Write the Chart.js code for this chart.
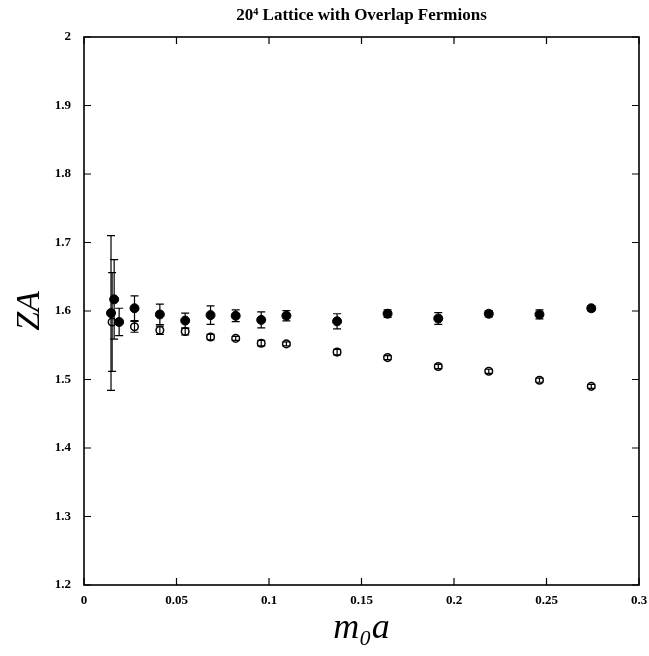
<!DOCTYPE html>
<html>
<head>
<meta charset="utf-8">
<script src="https://cdn.jsdelivr.net/npm/chart.js@4.4.1/dist/chart.umd.min.js"></script>
<style>
  body { margin: 0; background: #fff; }
  #wrap { width: 649px; height: 656px; }
</style>
</head>
<body>
<div id="wrap"><canvas id="za" width="649" height="656"></canvas></div>
<script>
// m0a values and Z_A
var massFilled = [0.0146, 0.0163, 0.0190, 0.0273, 0.0410, 0.0547, 0.0684, 0.0820, 0.0958, 0.1094, 0.1368, 0.1641, 0.1915, 0.2188, 0.2462, 0.2742];
var zaFilled   = [1.597, 1.617, 1.584, 1.604, 1.595, 1.586, 1.594, 1.593, 1.587, 1.593, 1.585, 1.596, 1.589, 1.596, 1.595, 1.604];
var errFilled  = [0.113, 0.058, 0.020, 0.018, 0.015, 0.011, 0.0135, 0.0085, 0.0117, 0.0075, 0.011, 0.0055, 0.0085, 0.0045, 0.0065, 0.004];

var massOpen = [0.0152, 0.0273, 0.0410, 0.0547, 0.0684, 0.0820, 0.0958, 0.1094, 0.1368, 0.1641, 0.1915, 0.2188, 0.2462, 0.2742];
var zaOpen   = [1.584, 1.577, 1.572, 1.570, 1.562, 1.560, 1.553, 1.552, 1.540, 1.532, 1.519, 1.512, 1.499, 1.490];
var errOpen  = [0.072, 0.008, 0.006, 0.005, 0.004, 0.003, 0.004, 0.003, 0.004, 0.003, 0.003, 0.003, 0.003, 0.003];

var xTicks = [0, 0.05, 0.1, 0.15, 0.2, 0.25, 0.3];
var yTicks = [1.2, 1.3, 1.4, 1.5, 1.6, 1.7, 1.8, 1.9, 2];

function points(xs, ys) {
	return xs.map(function (v, i) { return { x: v, y: ys[i] }; });
}

// error bars drawn under the markers
var errorBars = {
	id: 'errorBars',
	beforeDatasetsDraw: function (chart) {
		var ctx = chart.ctx, x = chart.scales.x, y = chart.scales.y;
		ctx.save();
		ctx.strokeStyle = '#000';
		ctx.lineWidth = 1.2;
		chart.data.datasets.forEach(function (ds) {
			ds.data.forEach(function (p, i) {
				var px = x.getPixelForValue(p.x);
				var top = y.getPixelForValue(p.y + ds.errors[i]);
				var bot = y.getPixelForValue(p.y - ds.errors[i]);
				ctx.beginPath();
				ctx.moveTo(px, top); ctx.lineTo(px, bot);
				ctx.moveTo(px - 4, top); ctx.lineTo(px + 4, top);
				ctx.moveTo(px - 4, bot); ctx.lineTo(px + 4, bot);
				ctx.stroke();
			});
		});
		ctx.restore();
	}
};

// box frame with inward ticks on all four sides
var frame = {
	id: 'frame',
	afterDraw: function (chart) {
		var ctx = chart.ctx, a = chart.chartArea, x = chart.scales.x, y = chart.scales.y;
		ctx.save();
		ctx.strokeStyle = '#000';
		ctx.lineWidth = 1.2;
		ctx.beginPath();
		xTicks.forEach(function (t) {
			var px = x.getPixelForValue(t);
			ctx.moveTo(px, a.bottom); ctx.lineTo(px, a.bottom - 7);
			ctx.moveTo(px, a.top); ctx.lineTo(px, a.top + 7);
		});
		yTicks.forEach(function (t) {
			var py = y.getPixelForValue(t);
			ctx.moveTo(a.left, py); ctx.lineTo(a.left + 7, py);
			ctx.moveTo(a.right, py); ctx.lineTo(a.right - 7, py);
		});
		ctx.stroke();
		ctx.lineWidth = 1.6;
		ctx.strokeRect(a.left, a.top, a.right - a.left, a.bottom - a.top);
		ctx.restore();
	}
};

var serif = "'Liberation Serif', 'DejaVu Serif', serif";
var plain = function (v) { return String(Math.round(v * 100) / 100); };

new Chart(document.getElementById('za'), {
	type: 'scatter',
	data: {
		datasets: [
			{
				data: points(massFilled, zaFilled),
				errors: errFilled,
				pointRadius: 4.5,
				pointBackgroundColor: '#000',
				pointBorderColor: '#000',
				pointBorderWidth: 1
			},
			{
				data: points(massOpen, zaOpen),
				errors: errOpen,
				pointRadius: 3.8,
				pointBackgroundColor: 'rgba(0,0,0,0)',
				pointBorderColor: '#000',
				pointBorderWidth: 1.5
			}
		]
	},
	options: {
		responsive: false,
		animation: false,
		layout: { padding: { top: 0, right: 0, left: 0, bottom: 0 } },
		plugins: {
			legend: { display: false },
			tooltip: { enabled: false },
			title: {
				display: true,
				fullSize: false,
				text: '20\u2074 Lattice with Overlap Fermions',
				color: '#000',
				font: { family: serif, size: 17, weight: 'bold', lineHeight: 1.2 },
				padding: { top: 5, bottom: 11.6 }
			}
		},
		scales: {
			x: {
				type: 'linear',
				min: 0,
				max: 0.3,
				afterFit: function (s) { s.height = 71; s.paddingRight = 10; },
				afterBuildTicks: function (s) { s.ticks = xTicks.map(function (v) { return { value: v }; }); },
				grid: { display: false, drawTicks: false },
				border: { display: false },
				ticks: { color: '#000', padding: 8, maxRotation: 0, callback: plain, font: { family: serif, size: 13, weight: 'bold' } },
				title: {
					display: true,
					text: 'm\u2080a',
					color: '#000',
					font: { family: serif, size: 36, style: 'italic', lineHeight: 1.2 },
					padding: { top: 0, bottom: 6 }
				}
			},
			y: {
				type: 'linear',
				min: 1.2,
				max: 2,
				afterFit: function (s) { s.width = 84; },
				afterBuildTicks: function (s) { s.ticks = yTicks.map(function (v) { return { value: v }; }); },
				grid: { display: false, drawTicks: false },
				border: { display: false },
				ticks: { color: '#000', padding: 13, callback: plain, font: { family: serif, size: 13, weight: 'bold' } },
				title: {
					display: true,
					text: 'ZA',
					color: '#000',
					font: { family: serif, size: 34, style: 'italic', lineHeight: 1.2 },
					padding: { top: 10, bottom: 0 }
				}
			}
		}
	},
	plugins: [errorBars, frame]
});
</script>
</body>
</html>
